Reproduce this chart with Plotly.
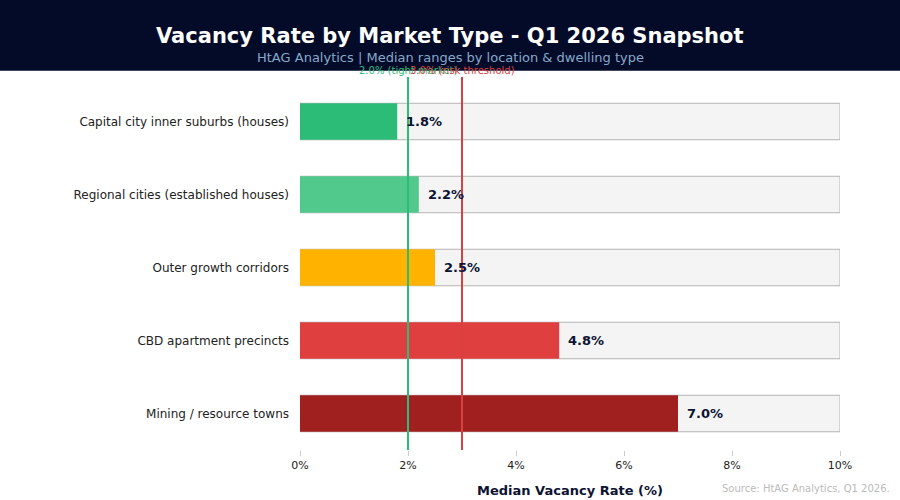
import plotly.graph_objects as go

categories = [
    "Capital city inner suburbs (houses)",
    "Regional cities (established houses)",
    "Outer growth corridors",
    "CBD apartment precincts",
    "Mining / resource towns",
]
values = [1.8, 2.2, 2.5, 4.8, 7.0]
colors = ["#2dbb78", "#52c98c", "#ffb300", "#df3f3f", "#a01f1f"]
axis_max = 10
thresholds = [2.0, 3.0]
threshold_labels = ["2.0% (tight market)", "3.0% (risk threshold)"]
threshold_colors = ["#2dbb78", "#d94040"]
tick_vals = [0, 2, 4, 6, 8, 10]
tick_text = ["0%", "2%", "4%", "6%", "8%", "10%"]

FONT = "DejaVu Sans"
PLOT_H = 365.0
CX = (450 - 300) / 540


def py(px):
    # convert pixel y (from top) to paper y; plot spans pixel 85..450
    return 1 + (85 - px) / PLOT_H


fig = go.Figure()
fig.add_trace(go.Bar(
    y=categories, x=[axis_max] * len(categories), orientation="h",
    marker=dict(color="#f4f4f4", line=dict(color="#b4b4b4", width=1)),
    width=0.5, hoverinfo="skip", showlegend=False,
))
fig.add_trace(go.Bar(
    y=categories, x=values, orientation="h",
    marker=dict(color=colors, line=dict(width=0)),
    width=0.5, showlegend=False,
))

for c, v in zip(categories, values):
    fig.add_annotation(x=v, y=c, text=f"<b>{v:.1f}%</b>", showarrow=False,
                       xanchor="left", xshift=7,
                       font=dict(family=FONT, size=13, color="#0d1333"))

for t, lab, col in zip(thresholds, threshold_labels, threshold_colors):
    fig.add_shape(type="line", xref="x", yref="paper", x0=t, x1=t, y0=0, y1=py(77),
                  line=dict(color=col, width=2))
    fig.add_annotation(x=t, xref="x", yref="paper", y=py(71), yanchor="middle",
                       xanchor="center", text=lab, showarrow=False,
                       font=dict(family=FONT, size=10, color=col))

# header band
fig.add_shape(type="rect", xref="paper", yref="paper", x0=-0.6, x1=1.2,
              y0=py(70.7), y1=py(-10), fillcolor="#030b29", line=dict(width=0), layer="below")
fig.add_annotation(xref="paper", yref="paper", x=CX, y=py(36),
                   text="<b>Vacancy Rate by Market Type - Q1 2026 Snapshot</b>",
                   showarrow=False, xanchor="center", yanchor="middle",
                   font=dict(family=FONT, size=21, color="#ffffff"))
fig.add_annotation(xref="paper", yref="paper", x=CX, y=py(58),
                   text="HtAG Analytics | Median ranges by location &amp; dwelling type",
                   showarrow=False, xanchor="center", yanchor="middle",
                   font=dict(family=FONT, size=13, color="#86a9c9"))
fig.add_annotation(xref="paper", yref="paper", x=0.5, y=py(490),
                   text="<b>Median Vacancy Rate (%)</b>",
                   showarrow=False, xanchor="center", yanchor="middle",
                   font=dict(family=FONT, size=13, color="#0d1333"))
fig.add_annotation(xref="paper", yref="paper", x=(892 - 300) / 540, y=py(489),
                   text="Source: HtAG Analytics, Q1 2026.", showarrow=False,
                   xanchor="right", yanchor="middle",
                   font=dict(family=FONT, size=10, color="#bbbbbb"))

fig.update_layout(
    width=900, height=500,
    margin=dict(l=300, r=60, t=85, b=50),
    barmode="overlay",
    plot_bgcolor="#ffffff", paper_bgcolor="#ffffff",
    font=dict(family=FONT, size=12, color="#222222"),
    xaxis=dict(range=[0, axis_max], tickvals=tick_vals, ticktext=tick_text,
               showgrid=False, zeroline=False, showline=False,
               ticks="outside", ticklen=5, tickcolor="#cccccc",
               automargin=False,
               tickfont=dict(family=FONT, size=11, color="#222222")),
    yaxis=dict(categoryorder="array", categoryarray=categories, autorange="reversed",
               showgrid=False, zeroline=False, showline=False, ticks="",
               ticklabelstandoff=10, automargin=False,
               tickfont=dict(family=FONT, size=12, color="#222222")),
)

fig.write_html("out.html")
